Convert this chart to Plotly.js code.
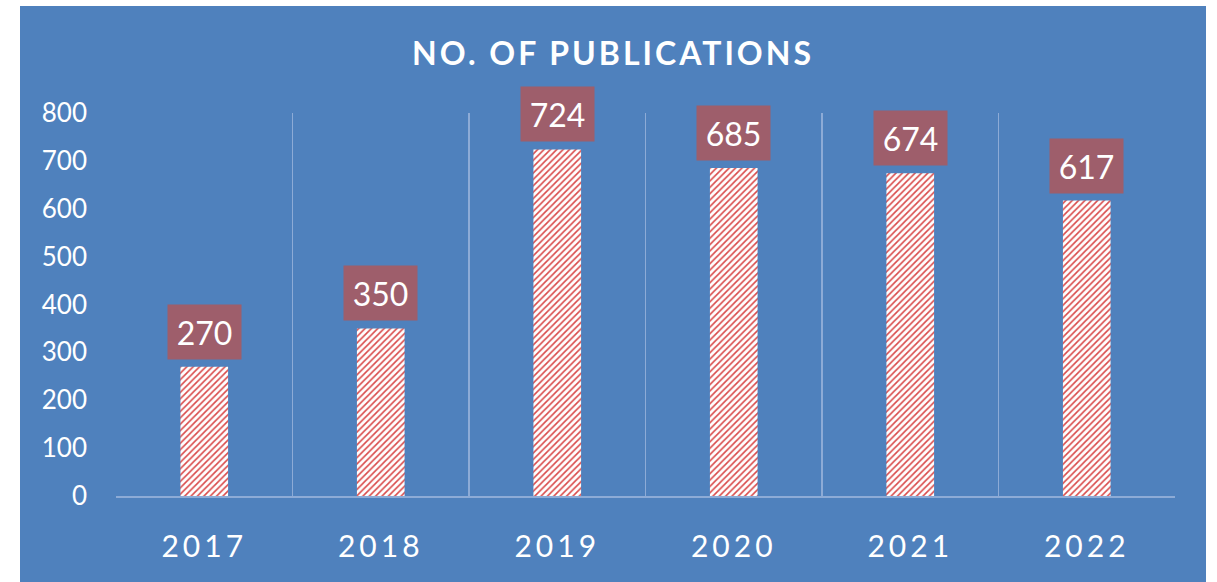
<!DOCTYPE html>
<html>
<head>
<meta charset="utf-8">
<script src="https://cdn.plot.ly/plotly-3.0.1.min.js"></script>
<style>
  html, body { margin: 0; padding: 0; background: #ffffff; width: 1217px; height: 582px; overflow: hidden; }
  #chart { position: absolute; left: 20px; top: 6px; width: 1186px; height: 576px; }
  .gtitle { letter-spacing: 3px; }
  .xtick text { letter-spacing: 4px; }
</style>
</head>
<body>
<div id="chart"></div>
<script>
const years = ["2017", "2018", "2019", "2020", "2021", "2022"];
const publications = [270, 350, 724, 685, 674, 617];
const yTicks = [0, 100, 200, 300, 400, 500, 600, 700, 800];

const FONT = "Lato, 'Open Sans', 'Noto Sans', sans-serif";
const BLUE = "#4f81bd";
const GRID = "#8dabd6";
const LABEL_BG = "#9e5e6b";

const trace = {
  type: "bar",
  x: years,
  y: publications,
  width: 0.27,
  marker: {
    color: "#ffffff",
    line: { width: 0 },
    pattern: { shape: "/", fgcolor: "#d94a4a", bgcolor: "#ffffff", size: 4.5, solidity: 0.35 }
  },
  hoverinfo: "skip"
};

const annotations = years.map((yr, i) => ({
  x: i,
  y: publications[i],
  xref: "x",
  yref: "y",
  yanchor: "bottom",
  yshift: 7,
  text: String(publications[i]),
  showarrow: false,
  bgcolor: LABEL_BG,
  borderpad: 6,
  width: 61,
  height: 42,
  font: { family: FONT, size: 32, color: "#ffffff" }
}));

const layout = {
  width: 1186,
  height: 576,
  paper_bgcolor: BLUE,
  plot_bgcolor: BLUE,
  margin: { l: 96, r: 31, t: 107, b: 86 },
  showlegend: false,
  title: {
    text: "<b>NO. OF PUBLICATIONS</b>",
    font: { family: FONT, size: 32, color: "#ffffff" },
    x: 0.5,
    xanchor: "center",
    y: 0.917,
    yanchor: "middle"
  },
  xaxis: {
    type: "category",
    categoryorder: "array",
    categoryarray: years,
    range: [-0.5, 5.5],
    autorange: false,
    tickson: "boundaries",
    showgrid: true,
    gridcolor: GRID,
    gridwidth: 1.5,
    showline: true,
    linecolor: GRID,
    linewidth: 1.5,
    ticks: "",
    ticklabelstandoff: 23,
    tickangle: 0,
    tickfont: { family: FONT, size: 30, color: "#ffffff" },
    fixedrange: true
  },
  yaxis: {
    range: [0, 800],
    autorange: false,
    tickvals: yTicks,
    ticktext: yTicks.map(String),
    showgrid: false,
    zeroline: false,
    showline: false,
    ticks: "",
    ticklabelstandoff: 28,
    tickfont: { family: FONT, size: 26, color: "#ffffff" },
    fixedrange: true
  },
  annotations: annotations
};

Plotly.newPlot("chart", [trace], layout, { displayModeBar: false, staticPlot: true });
</script>
</body>
</html>
